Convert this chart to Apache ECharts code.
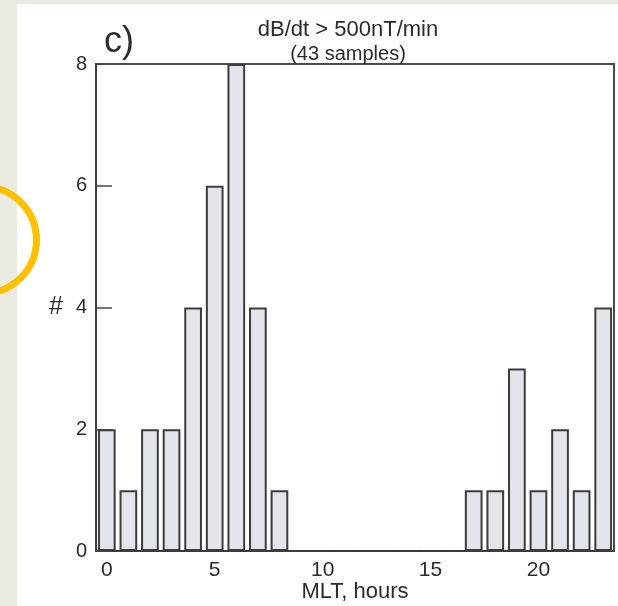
<!DOCTYPE html>
<html>
<head>
<meta charset="utf-8">
<script src="https://cdn.jsdelivr.net/npm/echarts@6/dist/echarts.min.js"></script>
<style>
html,body{margin:0;padding:0;background:#ecebe2;}
#chart{width:618px;height:606px;}
</style>
</head>
<body>
<div id="chart"></div>
<script>
// MLT hour bins
const categories = ['0','1','2','3','4','5','6','7','8','9','10','11','12','13','14','15','16','17','18','19','20','21','22','23'];
// number of samples per bin
const counts = [2,1,2,2,4,6,8,4,1,0,0,0,0,0,0,0,0,1,1,3,1,2,1,4];
const yTicks = [0,2,4,6,8];
const xLabelShown = ['0','5','10','15','20'];

const chart = echarts.init(document.getElementById('chart'), null, {renderer:'canvas'});
const font = 'Liberation Sans, Arial, Helvetica, sans-serif';
const txt = '#2b2b2b';
chart.setOption({
  backgroundColor: '#ecebe2',
  animation: false,
  graphic: [
    {type:'rect', z:-10, silent:true, shape:{x:17, y:4, width:601, height:602}, style:{fill:'#ffffff'}},
    {type:'text', z:10, style:{text:'c)', x:104, y:42, font:'36px ' + font, fill:txt, textAlign:'left', textVerticalAlign:'middle'}},
    {type:'text', z:10, style:{text:'dB/dt > 500nT/min', x:348, y:30, font:'22px ' + font, fill:txt, textAlign:'center', textVerticalAlign:'middle'}},
    {type:'text', z:10, style:{text:'(43 samples)', x:348, y:54, font:'20px ' + font, fill:txt, textAlign:'center', textVerticalAlign:'middle'}},
    {type:'circle', z:20, silent:true, shape:{cx:-17, cy:240, r:53.5}, style:{fill:'none', stroke:'#ffc000', lineWidth:7}}
  ],
  grid: {left:96, right:4, top:64, bottom:55, outerBoundsMode:'none', containLabel:false, show:true, borderColor:'#4a4a4a', borderWidth:2, backgroundColor:'#ffffff'},
  xAxis: {
    type:'category',
    data: categories,
    boundaryGap:true,
    name:'MLT, hours',
    nameLocation:'middle',
    nameMoveOverlap:false,
    nameGap:41,
    nameTextStyle:{fontSize:22, color:txt, fontFamily:font, verticalAlign:'middle'},
    axisLine:{show:true, lineStyle:{color:'#3a3a3a', width:2}},
    axisTick:{show:false},
    axisLabel:{
      interval:0,
      margin:9,
      fontSize:21, color:txt, fontFamily:font,
      formatter: v => xLabelShown.indexOf(v) >= 0 ? v : ''
    },
    splitLine:{show:false}
  },
  yAxis: {
    type:'value',
    min:yTicks[0], max:yTicks[yTicks.length-1], interval:2,
    name:'#',
    nameLocation:'middle',
    nameRotate:0,
    nameGap:33,
    nameTextStyle:{fontSize:25, color:txt, fontFamily:font},
    axisLine:{show:true, lineStyle:{color:'#3a3a3a', width:2}},
    axisTick:{show:true, inside:true, length:16, lineStyle:{color:'#4a4a4a', width:1.5}},
    axisLabel:{margin:9, fontSize:20, color:txt, fontFamily:font},
    splitLine:{show:false}
  },
  series: [{
    type:'bar',
    data: counts,
    barCategoryGap:'18%',
    itemStyle:{color:'#e2e5ea', borderColor:'#3c3c3c', borderWidth:2},
    emphasis:{disabled:true}
  }]
});
</script>
</body>
</html>
